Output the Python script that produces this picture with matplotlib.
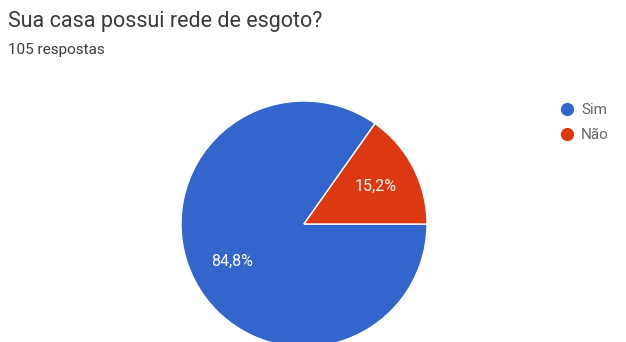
import matplotlib
matplotlib.use("Agg")
import matplotlib.pyplot as plt
from matplotlib.lines import Line2D
import numpy as np

plt.rcParams['font.family'] = ['Roboto', 'DejaVu Sans']

title = "Sua casa possui rede de esgoto?"
subtitle = "105 respostas"
categories = ["Sim", "Não"]
values = [84.8, 15.2]
labels_pct = ["84,8%", "15,2%"]
colors = ["#3366CC", "#DC3912"]

W, H = 626, 342
fig = plt.figure(figsize=(W / 100, H / 100), dpi=100)
fig.patch.set_facecolor("white")

cx, cy, r = 304, 224, 123
ax = fig.add_axes([(cx - r) / W, (H - cy - r) / H, 2 * r / W, 2 * r / H])
ang0 = 360 * values[1] / 100
ax.pie(values, colors=colors, startangle=ang0, counterclock=True, radius=1,
       wedgeprops=dict(edgecolor="white", linewidth=1))
start = ang0
for v, lab in zip(values, labels_pct):
    span = 360 * v / 100
    mid = np.deg2rad(start + span / 2)
    ax.text(0.66 * np.cos(mid), 0.66 * np.sin(mid), lab, ha="center", va="center",
            color="white", fontsize=11.5)
    start += span
ax.set_xlim(-1, 1)
ax.set_ylim(-1, 1)
ax.set_aspect("equal")
ax.axis("off")

fig.text(8 / W, 1 - 21 / H, title, fontsize=15.5, color="#3a3a3a", va="center", ha="left")
fig.text(8 / W, 1 - 50 / H, subtitle, fontsize=11, color="#3a3a3a", va="center", ha="left")

handles = [Line2D([0], [0], marker="o", linestyle="", markersize=8.5,
                  markerfacecolor=c, markeredgecolor=c) for c in colors]
leg = fig.legend(handles, categories, loc="upper left",
                 bbox_to_anchor=(559 / W, 1 - 103 / H), frameon=False,
                 fontsize=11, handletextpad=0.45, labelspacing=0.75,
                 handlelength=1.0, borderaxespad=0, borderpad=0)
for t in leg.get_texts():
    t.set_color("#666666")

fig.savefig("out.png", dpi=100, facecolor="white")
